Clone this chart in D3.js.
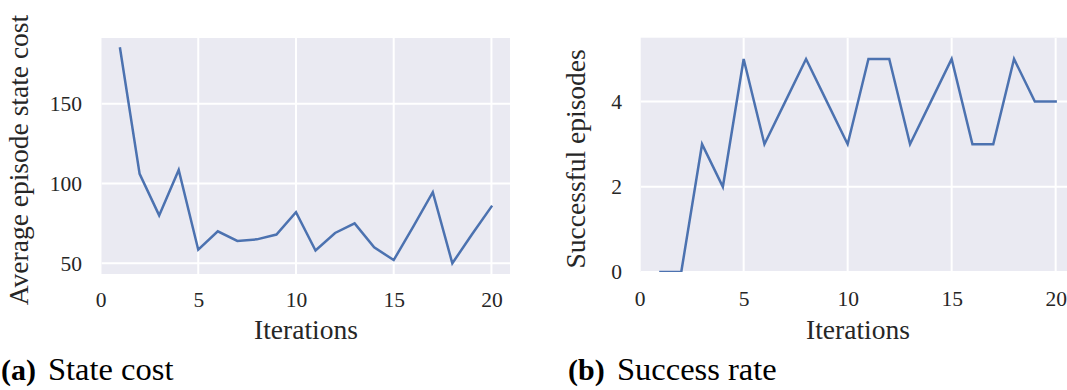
<!DOCTYPE html>
<html>
<head>
<meta charset="utf-8">
<script src="https://cdn.jsdelivr.net/npm/d3@7"></script>
<style>
  html, body { margin: 0; padding: 0; background: #fff; }
  svg { display: block; }
</style>
</head>
<body>
<svg id="fig" width="1067" height="390"></svg>
<script>
// Iteration index shared by both panels
const iterations = d3.range(1, 21);

// (a) average episode state cost per iteration
const stateCost = [184.5, 106, 80, 108.5, 58.5, 70, 64, 65, 68, 82,
                   58, 69, 75, 60, 52, 73, 94.5, 50, 68, 85.5];

// (b) number of successful episodes per iteration
const successes = [0, 0, 3, 2, 5, 3, 4, 5, 4, 3,
                   5, 5, 3, 4, 5, 3, 3, 5, 4, 4];

const xTicks = [0, 5, 10, 15, 20];
const costTicks = [50, 100, 150];
const successTicks = [0, 2, 4];

const svg = d3.select("#fig");
const BG = "#EAEAF2", LINE = "#4C72B0", INK = "#262626";
const SERIF = "Times New Roman";

function panel(opts) {
  const { id, x, y, xTicks, yTicks, values, yLabel, yLabelX, xLabelX,
          caption, captionX, captionTextX, yPad, xPad } = opts;
  const [x0, x1] = x.range();
  const [y0, y1] = y.range(); // y0 bottom, y1 top
  const g = svg.append("g");

  g.append("clipPath").attr("id", id)
    .append("rect").attr("x", x0).attr("y", y1)
    .attr("width", x1 - x0).attr("height", y0 - y1);

  g.append("rect").attr("x", x0).attr("y", y1)
    .attr("width", x1 - x0).attr("height", y0 - y1).attr("fill", BG);

  const grid = g.append("g").attr("clip-path", `url(#${id})`)
    .attr("stroke", "#fff").attr("stroke-width", 2);
  const [dx0, dx1] = x.domain();
  grid.selectAll(".gx").data(xTicks.filter(t => t >= dx0 && t <= dx1))
    .join("line").attr("x1", d => x(d)).attr("x2", d => x(d))
    .attr("y1", y1).attr("y2", y0);
  grid.selectAll(".gy").data(yTicks)
    .join("line").attr("y1", d => y(d)).attr("y2", d => y(d))
    .attr("x1", x0).attr("x2", x1);

  g.append("path").attr("clip-path", `url(#${id})`)
    .datum(values)
    .attr("fill", "none").attr("stroke", LINE).attr("stroke-width", 2.5)
    .attr("stroke-linejoin", "miter").attr("stroke-linecap", "square")
    .attr("d", d3.line().x((d, i) => x(iterations[i])).y(d => y(d)));

  // tick labels
  const yAxis = g.append("g").attr("transform", `translate(${x0},0)`)
    .call(d3.axisLeft(y).tickValues(yTicks).tickFormat(d3.format("d"))
      .tickSize(0).tickPadding(yPad));
  const xAxis = g.append("g").attr("transform", `translate(0,${y0})`)
    .call(d3.axisBottom(x).tickValues(xTicks).tickFormat(d3.format("d"))
      .tickSize(0).tickPadding(xPad));
  [yAxis, xAxis].forEach(a => {
    a.attr("font-family", SERIF).attr("font-size", 21.5);
    a.select(".domain").remove();
    a.selectAll("text").attr("fill", INK);
  });

  g.append("text").attr("x", xLabelX).attr("y", 339)
    .attr("text-anchor", "middle").attr("fill", INK)
    .attr("font-family", SERIF).attr("font-size", 27.5)
    .text("Iterations");

  g.append("text")
    .attr("transform", `translate(${yLabelX},${(y0 + y1) / 2 + 4}) rotate(-90)`)
    .attr("text-anchor", "middle").attr("fill", INK)
    .attr("font-family", SERIF).attr("font-size", 27.5)
    .text(yLabel);

  g.append("text").attr("x", captionX).attr("y", 380).attr("fill", "#000")
    .attr("font-family", SERIF).attr("font-size", 30)
    .attr("font-weight", "bold")
    .text(caption[0]);
  g.append("text").attr("x", captionTextX).attr("y", 380).attr("fill", "#000")
    .attr("font-family", SERIF).attr("font-size", 32.5)
    .text(caption[1]);
}

panel({
  id: "clipA",
  x: d3.scaleLinear().domain([0.05, 20.95]).range([101.5, 510]),
  y: d3.scaleLinear().domain([43.3, 191.1]).range([274, 38]),
  xTicks, yTicks: costTicks, values: stateCost,
  yLabel: "Average episode state cost", yLabelX: 28, xLabelX: 306,
  caption: ["(a)", "State cost"], captionX: 1, captionTextX: 48,
  yPad: 19.5, xPad: 18
});

panel({
  id: "clipB",
  x: d3.scaleLinear().domain([0.05, 20.95]).range([640.7, 1075.4]),
  y: d3.scaleLinear().domain([0, 5.5]).range([272, 37.7]),
  xTicks, yTicks: successTicks, values: successes,
  yLabel: "Successful episodes", yLabelX: 585, xLabelX: 858,
  caption: ["(b)", "Success rate"], captionX: 568, captionTextX: 617,
  yPad: 18.7, xPad: 19
});
</script>
</body>
</html>
